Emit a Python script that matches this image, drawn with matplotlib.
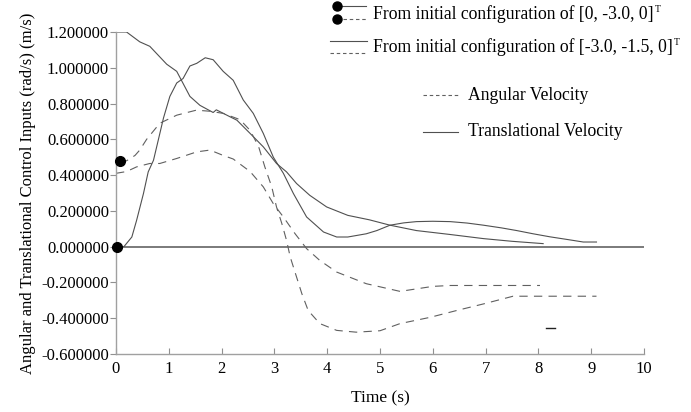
import matplotlib
matplotlib.use("Agg")
import matplotlib.pyplot as plt
from matplotlib.lines import Line2D
import numpy as np

plt.rcParams['font.family'] = ['Liberation Serif', 'DejaVu Serif']
plt.rcParams['axes.unicode_minus'] = False
plt.rcParams['lines.scale_dashes'] = False

# ---- data ----
# Translational velocity, initial configuration [0, -3.0, 0]^T
t_trans1 = [0.02, 0.15, 0.3, 0.39, 0.52, 0.61, 0.71, 0.8, 0.9, 1.02, 1.15, 1.27, 1.40, 1.53, 1.69,
            1.84, 2.03, 2.22, 2.41, 2.6, 2.79, 2.98, 3.17, 3.36, 3.61, 3.93, 4.18, 4.39, 4.74, 4.94,
            5.19, 5.45, 5.69, 6.0, 6.33, 6.65, 6.96, 7.3, 7.59, 7.9, 8.22, 8.55, 8.85, 9.1]
v_trans1 = [0.0, 0.0, 0.054, 0.147, 0.297, 0.418, 0.483, 0.595, 0.72, 0.84, 0.915, 0.94, 1.01, 1.025, 1.056,
            1.045, 0.98, 0.93, 0.82, 0.745, 0.633, 0.50, 0.41, 0.297, 0.166, 0.082, 0.054, 0.054, 0.072, 0.09,
            0.12, 0.133, 0.14, 0.142, 0.14, 0.132, 0.12, 0.105, 0.09, 0.072, 0.055, 0.04, 0.026, 0.026]

# Angular velocity, initial configuration [0, -3.0, 0]^T
t_ang1 = [0.076, 0.2, 0.36, 0.45, 0.58, 0.83, 1.15, 1.52, 1.78, 2.03, 2.35, 2.54, 2.7, 2.82, 2.95, 3.04,
          3.14, 3.23, 3.3, 3.42, 3.52, 3.64, 3.86, 4.18, 4.55, 5.0, 5.38, 5.95, 6.45, 6.96, 7.52, 8.0, 8.5, 9.1]
v_ang1 = [0.477, 0.48, 0.51, 0.54, 0.60, 0.69, 0.735, 0.763, 0.757, 0.745, 0.71, 0.65, 0.56, 0.445, 0.334, 0.222,
          0.13, 0.035, -0.058, -0.17, -0.263, -0.357, -0.43, -0.468, -0.478, -0.47, -0.43, -0.395, -0.357, -0.32,
          -0.277, -0.277, -0.277, -0.277]

# Translational velocity, initial configuration [-3.0, -1.5, 0]^T
t_trans2 = [0.0, 0.2, 0.45, 0.64, 0.96, 1.15, 1.40, 1.59, 1.84, 1.9, 2.16, 2.29, 2.54, 2.79, 3.04, 3.23,
            3.42, 3.67, 3.99, 4.39, 4.8, 5.19, 5.69, 6.33, 6.96, 7.5, 8.09]
v_trans2 = [1.2, 1.2, 1.145, 1.12, 1.02, 0.98, 0.84, 0.79, 0.75, 0.765, 0.726, 0.707, 0.633, 0.558, 0.465, 0.418,
            0.353, 0.287, 0.222, 0.175, 0.15, 0.12, 0.09, 0.068, 0.045, 0.03, 0.017]

# Angular velocity, initial configuration [-3.0, -1.5, 0]^T
t_ang2 = [0.0, 0.2, 0.39, 0.64, 0.83, 1.15, 1.53, 1.78, 2.03, 2.22, 2.54, 2.79, 2.98, 3.17, 3.39, 3.61,
          3.86, 4.18, 4.74, 5.38, 6.0, 6.33, 7.0, 8.03]
v_ang2 = [0.41, 0.42, 0.446, 0.465, 0.465, 0.493, 0.53, 0.54, 0.51, 0.49, 0.42, 0.334, 0.24, 0.166, 0.073, -0.011,
          -0.077, -0.142, -0.207, -0.25, -0.222, -0.217, -0.217, -0.217]

# stray short segment near t = 8.2
t_stray = [8.15, 8.31]
v_stray = [-0.454, -0.454]

# starting points marked with dots
t_start = [0.02, 0.076]
v_start = [0.0, 0.477]

y_ticks = [-0.6, -0.4, -0.2, 0.0, 0.2, 0.4, 0.6, 0.8, 1.0, 1.2]
x_ticks = [0, 1, 2, 3, 4, 5, 6, 7, 8, 9, 10]

W, H = 691, 412
fig = plt.figure(figsize=(W / 100, H / 100), dpi=100)
ax = fig.add_axes([116 / W, (H - 354) / H, (644 - 116) / W, (354 - 32) / H])

solid_c = '#505050'
dash_c = '#606060'
lw = 0.8
dash_pat = (6, 4.5)

ax.plot(t_trans1, v_trans1, color=solid_c, lw=lw)
ax.plot(t_trans2, v_trans2, color=solid_c, lw=lw)
ax.plot(t_ang1, v_ang1, color=dash_c, lw=lw, dashes=dash_pat)
ax.plot(t_ang2, v_ang2, color=dash_c, lw=lw, dashes=dash_pat)
ax.plot(t_stray, v_stray, color='#222222', lw=1.0)
ax.axhline(0, color='#707070', lw=1.3, zorder=1)
ax.plot(t_start, v_start, 'o', color='black', ms=7, zorder=5, clip_on=False)

ax.set_xlim(0, 10)
ax.set_ylim(-0.6, 1.2)
ax.set_xticks(x_ticks)
ax.set_yticks(y_ticks)
ax.set_yticklabels(['%.6f' % v for v in y_ticks])
ax.set_xticklabels([str(v) for v in x_ticks])
for s in ['top', 'right']:
    ax.spines[s].set_visible(False)
for s in ['left', 'bottom']:
    ax.spines[s].set_color('#a0a0a0')
    ax.spines[s].set_linewidth(1.0)
ax.tick_params(axis='y', direction='out', length=4, width=0.8, color='#909090', labelsize=12, pad=1)
ax.tick_params(axis='x', direction='in', length=4, width=0.8, color='#909090', labelsize=12, pad=5)
ax.set_xlabel('Time (s)', fontsize=12.5, labelpad=10)
ax.set_ylabel('Angular and Translational Control Inputs (rad/s) (m/s)', fontsize=12, labelpad=4)

# ---- legend keys (figure pixel overlay) ----
ov = fig.add_axes([0, 0, 1, 1], zorder=10)
ov.set_xlim(0, W)
ov.set_ylim(H, 0)
ov.axis('off')
ov.patch.set_alpha(0)
fs_leg = 12.7

ov.add_line(Line2D([337, 366], [6, 6], color=solid_c, lw=lw))
ov.add_line(Line2D([337], [6], marker='o', color='black', ms=6.5))
ov.add_line(Line2D([343, 367], [19, 19], color=dash_c, lw=lw, dashes=(2.5, 2)))
ov.add_line(Line2D([337], [19], marker='o', color='black', ms=6.5))
t1 = ov.text(373, 14.5, 'From initial configuration of [0, -3.0, 0]', fontsize=fs_leg, va='center', ha='left')

ov.add_line(Line2D([330, 367], [41, 41], color=solid_c, lw=lw))
ov.add_line(Line2D([330, 367], [53, 53], color=dash_c, lw=lw, dashes=(2.5, 2)))
t2 = ov.text(373, 47.5, 'From initial configuration of [-3.0, -1.5, 0]', fontsize=fs_leg, va='center', ha='left')

fig.canvas.draw()
r = fig.canvas.get_renderer()
inv = ov.transData.inverted()
for tt, yy in [(t1, 9.5), (t2, 42.5)]:
    bb = tt.get_window_extent(renderer=r)
    xr = inv.transform((bb.x1, bb.y1))[0]
    ov.text(xr + 1, yy, 'T', fontsize=7, va='center', ha='left')

ov.add_line(Line2D([423, 458], [95, 95], color=dash_c, lw=lw, dashes=(2.5, 2)))
ov.text(468, 95, 'Angular Velocity', fontsize=fs_leg, va='center', ha='left')
ov.add_line(Line2D([423, 458], [132, 132], color=solid_c, lw=lw))
ov.text(468, 131, 'Translational Velocity', fontsize=fs_leg, va='center', ha='left')

fig.savefig('out.png', dpi=100)
